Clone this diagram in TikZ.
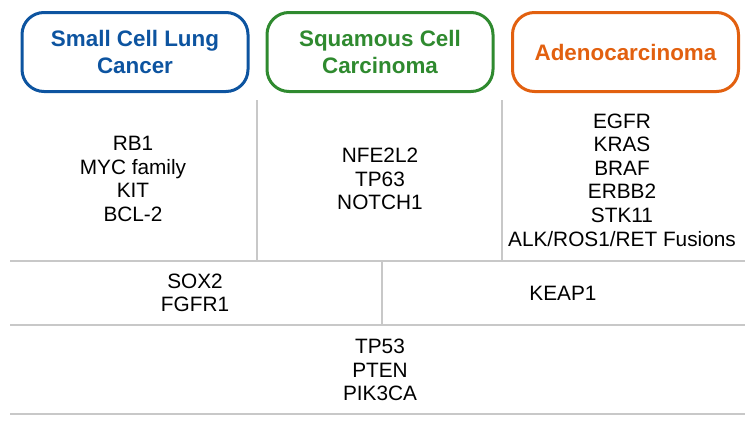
\documentclass[tikz,border=0pt]{standalone}
\usepackage{fontspec}
\setmainfont{Liberation Sans}
\usepackage{tikz}

\definecolor{sclcblue}{HTML}{0D54A0}
\definecolor{sccgreen}{HTML}{2F8A2F}
\definecolor{adenoorange}{HTML}{E2600F}
\definecolor{gridgrey}{HTML}{C8C8C8}

\tikzset{
  header/.style={draw, rounded corners=22pt, line width=3pt,
    minimum width=226pt, minimum height=79pt, align=center,
    font=\bfseries\fontsize{22.4}{27}\selectfont},
  genes/.style={align=center, font=\fontsize{20.8}{23.6}\selectfont},
  grid/.style={draw=gridgrey, line width=1.6pt}
}

\begin{document}
\begin{tikzpicture}[x=1pt, y=-1pt]
    \useasboundingbox (0,0) rectangle (756,421);
    % subtype headers
    \node[header, draw=sclcblue, text=sclcblue] (sclc) at (135,52)
      {Small Cell Lung\\Cancer};
    \node[header, draw=sccgreen, text=sccgreen] (scc) at (380,52)
      {Squamous Cell\\Carcinoma};
    \node[header, draw=adenoorange, text=adenoorange] (adeno) at (625.5,52)
      {Adenocarcinoma};

    % table rules
    \coordinate (rowa) at (10,261);
    \coordinate (rowb) at (10,325);
    \coordinate (rowc) at (10,414);
    \draw[grid] (rowa) -- ++(735,0);
    \draw[grid] (rowb) -- ++(735,0);
    \draw[grid] (rowc) -- ++(735,0);
    \draw[grid] (257,100) -- (257,261);
    \draw[grid] (502,100) -- (502,261);
    \draw[grid] (382,261) -- (382,325);

    % genes per subtype
    \node[genes] (sclcgenes) at (133,179)
      {RB1\\MYC family\\KIT\\BCL-2};
    \node[genes] (sccgenes) at (380,179)
      {NFE2L2\\TP63\\NOTCH1};
    \node[genes] (adenogenes) at (622,180)
      {EGFR\\KRAS\\BRAF\\ERBB2\\STK11\\ALK/ROS1/RET Fusions};

    % shared genes
    \node[genes] (shareda) at (195,293) {SOX2\\FGFR1};
    \node[genes] (sharedb) at (563,293) {KEAP1};
    \node[genes] (sharedall) at (380,370) {TP53\\PTEN\\PIK3CA};
  \end{tikzpicture}
\end{document}
